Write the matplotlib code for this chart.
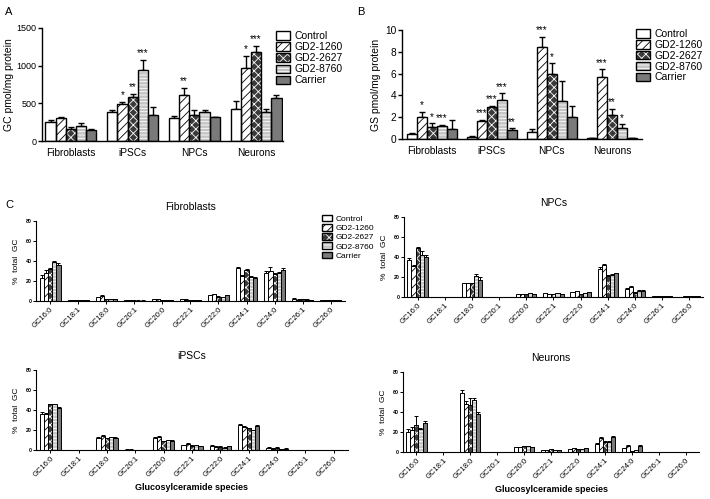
import matplotlib
matplotlib.use('Agg')
import matplotlib.pyplot as plt
from matplotlib.patches import Patch
from matplotlib.legend_handler import HandlerTuple
import numpy as np

plt.rcParams['font.family'] = ['Liberation Sans', 'DejaVu Sans']
plt.rcParams['hatch.linewidth'] = 0.6

series = ['Control', 'GD2-1260', 'GD2-2627', 'GD2-8760', 'Carrier']
cell_types = ['Fibroblasts', 'iPSCs', 'NPCs', 'Neurons']
species = ['GC16:0', 'GC18:1', 'GC18:0', 'GC20:1', 'GC20:0', 'GC22:1',
           'GC22:0', 'GC24:1', 'GC24:0', 'GC26:1', 'GC26:0']

# Panel A: GC pmol/mg protein (rows = series, cols = cell types)
gc_mean = [[255, 390, 310, 430],
           [310, 490, 615, 965],
           [165, 585, 340, 1175],
           [205, 940, 380, 385],
           [145, 345, 315, 575]]
gc_err = [[20, 25, 20, 100],
          [15, 30, 95, 160],
          [25, 35, 70, 85],
          [35, 130, 30, 40],
          [15, 110, 10, 40]]
gc_stars = [(1, 1, '*'), (1, 2, '**'), (1, 3, '***'), (2, 1, '**'),
            (3, 1, '*'), (3, 2, '***')]

# Panel B: GS pmol/mg protein
gs_mean = [[0.5, 0.22, 0.65, 0.05],
           [2.0, 1.65, 8.4, 5.7],
           [1.1, 2.9, 6.0, 2.2],
           [1.2, 3.6, 3.5, 1.0],
           [0.95, 0.85, 2.0, 0.05]]
gs_err = [[0.05, 0.05, 0.25, 0.03],
          [0.5, 0.1, 0.95, 0.7],
          [0.35, 0.15, 0.95, 0.55],
          [0.1, 0.6, 1.8, 0.35],
          [0.8, 0.12, 1.0, 0.02]]
gs_stars = [(0, 1, '*'), (0, 2, '*'), (0, 3, '***'),
            (1, 1, '***'), (1, 2, '***'), (1, 3, '***'), (1, 4, '**'),
            (2, 1, '***'), (2, 2, '*'),
            (3, 1, '***'), (3, 2, '**'), (3, 3, '*')]

# Panel C: % total GC per species (rows = series)
fib_mean = [[23, 0.5, 3.5, 0.3, 1.5, 1.5, 5.5, 32.5, 28, 2.0, 0.5],
            [28, 0.5, 5.0, 0.2, 1.2, 1.0, 6.5, 25, 30, 1.0, 0.5],
            [32, 0.3, 1.5, 0.1, 0.8, 0.6, 4.0, 31, 27, 1.2, 0.6],
            [39, 0.2, 1.5, 0.1, 0.6, 0.5, 3.5, 24, 28, 1.0, 0.5],
            [36, 0.2, 1.5, 0.1, 0.8, 0.5, 5.5, 22.5, 30.5, 0.5, 0.5]]
fib_err = [[3, 0.1, 0.4, 0.1, 0.2, 0.2, 0.5, 1.0, 2.0, 0.3, 0.1],
           [2.5, 0.1, 0.7, 0.1, 0.2, 0.2, 0.6, 1.0, 3.5, 0.2, 0.1],
           [1.0, 0.1, 0.3, 0.1, 0.1, 0.1, 0.4, 1.0, 1.0, 0.2, 0.1],
           [1.0, 0.1, 0.3, 0.1, 0.1, 0.1, 0.4, 1.0, 1.0, 0.2, 0.1],
           [1.5, 0.1, 0.3, 0.1, 0.1, 0.1, 0.5, 1.0, 2.0, 0.1, 0.1]]

npc_mean = [[37, 0.3, 13.5, 0.3, 3.0, 3.5, 5.0, 28, 8.0, 1.0, 0.3],
            [31, 0.3, 13.5, 0.3, 3.0, 3.0, 5.5, 32, 10, 1.0, 0.5],
            [49.5, 0.3, 13.5, 0.2, 2.5, 2.5, 3.0, 21, 4.0, 0.5, 0.5],
            [42, 0.3, 21, 0.2, 4.0, 3.5, 3.5, 22, 6.0, 0.5, 0.5],
            [40, 0.3, 17, 0.2, 2.8, 2.5, 5.0, 23.5, 6.0, 0.5, 0.5]]
npc_err = [[1.5, 0.1, 0.5, 0.1, 0.3, 0.3, 0.4, 1.5, 1.0, 0.1, 0.1],
           [1.0, 0.1, 0.5, 0.1, 0.3, 0.3, 0.4, 1.0, 1.0, 0.1, 0.1],
           [1.0, 0.1, 0.5, 0.1, 0.3, 0.3, 0.4, 0.8, 0.8, 0.1, 0.1],
           [4.0, 0.1, 2.0, 0.1, 0.4, 0.3, 0.4, 0.8, 0.8, 0.1, 0.1],
           [2.0, 0.1, 3.0, 0.1, 0.3, 0.3, 0.4, 0.8, 0.8, 0.1, 0.1]]

ips_mean = [[36, 0.2, 12.5, 0.5, 12.5, 5.0, 4.5, 25.5, 2.5, 0.2, 0.1],
            [36, 0.2, 14.5, 0.5, 13.5, 6.5, 3.5, 23, 1.5, 0.2, 0.1],
            [46, 0.2, 12, 0.3, 9.0, 4.5, 3.5, 22, 2.5, 0.2, 0.1],
            [46, 0.2, 13, 0.3, 10, 5.0, 2.5, 20, 1.0, 0.2, 0.1],
            [42, 0.2, 12.5, 0.3, 9.5, 4.0, 4.0, 24, 1.5, 0.2, 0.1]]
ips_err = [[2.0, 0.05, 0.5, 0.1, 0.6, 0.4, 0.3, 0.6, 0.3, 0.05, 0.05],
           [1.0, 0.05, 0.6, 0.1, 0.6, 0.4, 0.3, 0.6, 0.3, 0.05, 0.05],
           [0.5, 0.05, 0.4, 0.1, 0.4, 0.3, 0.3, 0.5, 0.3, 0.05, 0.05],
           [0.5, 0.05, 0.4, 0.1, 0.4, 0.3, 0.3, 0.5, 0.3, 0.05, 0.05],
           [0.6, 0.05, 0.4, 0.1, 0.4, 0.3, 0.3, 0.6, 0.3, 0.05, 0.05]]

neu_mean = [[20, 0.3, 59, 0.2, 5.0, 1.5, 3.0, 8.0, 3.5, 0.3, 0.2],
            [22, 0.3, 48, 0.2, 5.0, 2.0, 4.0, 14, 6.0, 0.3, 0.2],
            [27, 0.3, 47, 0.2, 5.5, 2.5, 3.0, 10, 1.0, 0.3, 0.2],
            [23, 0.3, 52, 0.2, 5.5, 2.0, 2.5, 10, 2.0, 0.3, 0.2],
            [29, 0.3, 38, 0.2, 4.5, 2.0, 4.0, 15, 5.5, 0.3, 0.2]]
neu_err = [[3.0, 0.05, 3.0, 0.05, 0.3, 0.2, 0.3, 0.5, 0.5, 0.05, 0.05],
           [3.0, 0.05, 3.0, 0.05, 0.3, 0.2, 0.3, 0.8, 0.6, 0.05, 0.05],
           [9.0, 0.05, 7.0, 0.05, 0.3, 0.2, 0.3, 0.5, 0.3, 0.05, 0.05],
           [1.0, 0.05, 2.0, 0.05, 0.3, 0.2, 0.3, 0.5, 0.3, 0.05, 0.05],
           [2.0, 0.05, 2.0, 0.05, 0.3, 0.2, 0.3, 0.6, 1.0, 0.05, 0.05]]

styles = [dict(face='white', hatch=None, hcol='white'),
          dict(face='white', hatch='////', hcol='black'),
          dict(face='#3a3a3a', hatch='xxxx', hcol='white'),
          dict(face='#c4c4c4', hatch='-----', hcol='white'),
          dict(face='#7a7a7a', hatch=None, hcol='#7a7a7a')]


def draw_bars(ax, means, errs, width, lw, capsize, elw):
    n = len(means[0])
    x = np.arange(n)
    pos_all = []
    for i, (m, e) in enumerate(zip(means, errs)):
        pos = x + (i - 2) * width
        st = styles[i]
        ax.bar(pos, m, width, color=st['face'], hatch=st['hatch'],
               edgecolor=st['hcol'], linewidth=0, zorder=2)
        ax.bar(pos, m, width, fill=False, edgecolor='black', linewidth=lw, zorder=3)
        ax.errorbar(pos, m, yerr=[np.zeros(n), e], fmt='none', ecolor='black',
                    elinewidth=elw, capsize=capsize, capthick=elw, zorder=1)
        pos_all.append(pos)
    return pos_all


def style_axes(ax, lw):
    ax.spines['top'].set_visible(False)
    ax.spines['right'].set_visible(False)
    ax.spines['left'].set_linewidth(lw)
    ax.spines['bottom'].set_linewidth(lw)


def legend_handles():
    hs = []
    for st in styles:
        hs.append((Patch(facecolor=st['face'], hatch=st['hatch'], edgecolor=st['hcol'], linewidth=0),
                   Patch(fill=False, edgecolor='black', linewidth=1.0)))
    return hs


fig = plt.figure(figsize=(7.1, 4.99), dpi=100)

# ---------- Panel A ----------
axA = fig.add_axes([0.059, 0.7174, 0.34, 0.2265])
posA = draw_bars(axA, gc_mean, gc_err, 0.165, 1.0, 2.0, 1.0)
axA.set_xlim(-0.47, 3.44)
axA.set_ylim(0, 1500)
axA.set_yticks([0, 500, 1000, 1500])
axA.set_xticks(range(4))
axA.set_xticklabels(cell_types, fontsize=7.3)
axA.tick_params(axis='x', length=0, pad=5)
axA.tick_params(axis='y', labelsize=6.5, length=3, width=1, pad=1)
axA.set_ylabel('GC pmol/mg protein', fontsize=7.5, labelpad=2)
style_axes(axA, 1.0)
for g, s, t in gc_stars:
    axA.text(posA[s][g], gc_mean[s][g] + gc_err[s][g] + 25, t, ha='center', va='bottom', fontsize=7)
fig.legend(legend_handles(), series, handler_map={tuple: HandlerTuple(ndivide=1)},
           loc='upper left', bbox_to_anchor=(0.382, 0.948), fontsize=7.5, frameon=False,
           borderpad=0, labelspacing=0.1, handlelength=1.3, handleheight=0.85, handletextpad=0.45)

# ---------- Panel B ----------
axB = fig.add_axes([0.566, 0.7214, 0.338, 0.2184])
posB = draw_bars(axB, gs_mean, gs_err, 0.167, 1.0, 2.0, 1.0)
axB.set_xlim(-0.5, 3.5)
axB.set_ylim(0, 10)
axB.set_yticks([0, 2, 4, 6, 8, 10])
axB.set_xticks(range(4))
axB.set_xticklabels(cell_types, fontsize=7.3)
axB.tick_params(axis='x', length=0, pad=5)
axB.tick_params(axis='y', labelsize=7.3, length=3, width=1, pad=1)
axB.set_ylabel('GS pmol/mg protein', fontsize=7.5, labelpad=3)
style_axes(axB, 1.0)
for g, s, t in gs_stars:
    axB.text(posB[s][g], gs_mean[s][g] + gs_err[s][g] + 0.15, t, ha='center', va='bottom', fontsize=7)
fig.legend(legend_handles(), series, handler_map={tuple: HandlerTuple(ndivide=1)},
           loc='upper left', bbox_to_anchor=(0.889, 0.952), fontsize=7.5, frameon=False,
           borderpad=0, labelspacing=0.08, handlelength=1.3, handleheight=0.85, handletextpad=0.45)

# ---------- Panel C ----------
c_specs = [
    ('Fibroblasts', fib_mean, fib_err, [0.0507, 0.3974, 0.435, 0.160], False),
    ('NPCs', npc_mean, npc_err, [0.569, 0.405, 0.421, 0.160], False),
    ('iPSCs', ips_mean, ips_err, [0.0507, 0.098, 0.4393, 0.1605], True),
    ('Neurons', neu_mean, neu_err, [0.5676, 0.0942, 0.417, 0.1603], True),
]
for title, m, e, rect, xlab in c_specs:
    ax = fig.add_axes(rect)
    draw_bars(ax, m, e, 0.15, 0.7, 1.2, 0.7)
    ax.set_xlim(-0.5, 10.5)
    ax.set_ylim(0, 80)
    ax.set_yticks([0, 20, 40, 60, 80])
    ax.set_xticks(range(len(species)))
    ax.set_xticklabels(species, rotation=45, ha='right', va='top', rotation_mode='anchor', fontsize=5.5)
    ax.tick_params(axis='x', length=2, width=0.7, pad=1.5)
    ax.tick_params(axis='y', labelsize=3.8, length=2, width=0.7, pad=1)
    for lbl in ax.get_yticklabels():
        lbl.set_fontweight('bold')
    ax.set_ylabel('%  total  GC', fontsize=6, labelpad=4)
    ax.set_title(title, fontsize=7.5, pad=8)
    style_axes(ax, 0.8)
    if xlab:
        ax.set_xlabel('Glucosylceramide species', fontsize=6.5, fontweight='bold', labelpad=3)

fig.legend(legend_handles(), series, handler_map={tuple: HandlerTuple(ndivide=1)},
           loc='upper left', bbox_to_anchor=(0.447, 0.578), fontsize=6, frameon=False,
           borderpad=0, labelspacing=0.12, handlelength=1.3, handleheight=0.85, handletextpad=0.45)

fig.text(0.007, 0.985, 'A', fontsize=8, va='top')
fig.text(0.503, 0.985, 'B', fontsize=8, va='top')
fig.text(0.007, 0.6, 'C', fontsize=8, va='top')

fig.savefig('out.png', dpi=100)
